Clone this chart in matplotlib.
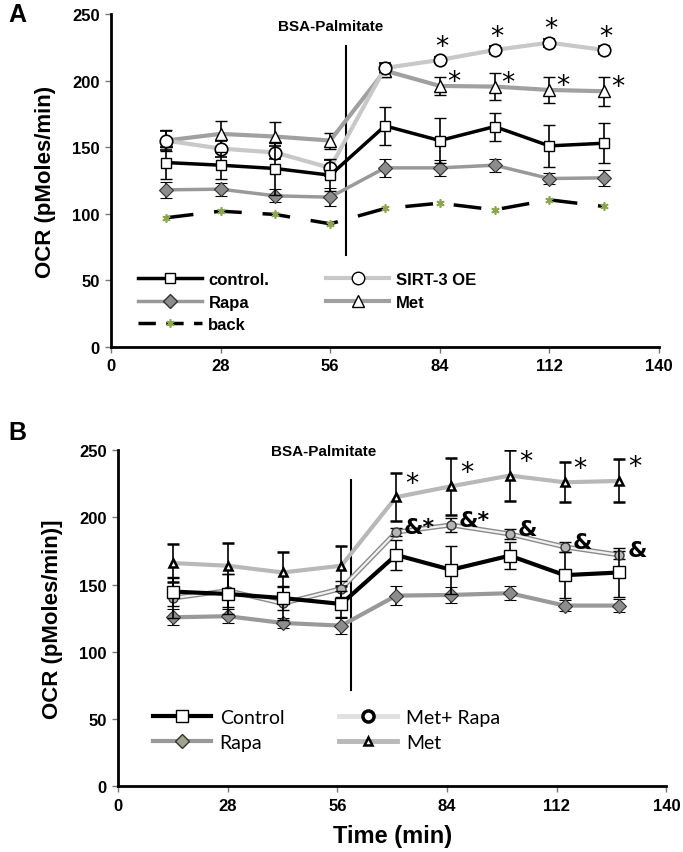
import matplotlib.pyplot as plt
import matplotlib.patheffects as pe
from matplotlib.lines import Line2D

plt.rcParams['font.family'] = ['Liberation Sans Narrow', 'Liberation Sans', 'DejaVu Sans']

# ---- panel A data ----
time_a = [14, 28, 42, 56, 70, 84, 98, 112, 126]
control_a = [138.5, 136.5, 134, 129, 166, 155, 165.5, 151, 153]
control_a_err = [12, 10, 20, 12, 14.5, 17, 10.5, 16, 15]
sirt_a = [155, 149, 146, 134.5, 209.5, 215.5, 223, 228.5, 223]
sirt_a_err = [7, 6, 5, 6, 4, 2, 3, 3, 3]
met_a = [155, 160, 158, 155, 207.5, 196, 195.5, 193, 192]
met_a_err = [8, 10, 11, 6, 5, 7, 10, 10, 11]
rapa_a = [118, 118.5, 113.5, 112.5, 134.5, 134.5, 136.5, 126.5, 127]
rapa_a_err = [6, 5, 5, 7, 7, 6, 5, 4, 6]
back_a = [97, 102, 99.5, 92.5, 104, 108, 103, 110.5, 105.5]
sig_sirt_a = [84, 98, 112, 126]
sig_met_a = [84, 98, 112, 126]

# ---- panel B data ----
time_b = [14, 28, 42, 57, 71, 85, 100, 114, 128]
control_b = [144.8, 143, 140, 135.6, 172, 161, 171.5, 157, 159]
control_b_err = [11, 15, 9, 10, 11, 18, 10, 17, 18]
metrapa_b = [140, 145.5, 136, 147, 189, 194.3, 187.6, 178, 172]
metrapa_b_err = [15, 12, 12, 6, 3, 5, 4, 4, 3]
met_b = [166, 164, 159, 164, 215, 223, 231, 226, 227]
met_b_err = [14, 17, 15, 15, 18, 21, 19, 15, 16]
rapa_b = [125.7, 126.5, 121.5, 119.5, 141.8, 142.3, 143.6, 134.4, 134.4]
rapa_b_err = [6, 5, 4, 6, 7, 6, 5, 4, 5]
sig_met_b = [71, 85, 100, 114, 128]
amp_b = [71, 85, 100, 114, 128]
amp_labels_b = ['&*', '&*', '&', '&', '&']

xticks = [0, 28, 56, 84, 112, 140]
yticks = [0, 50, 100, 150, 200, 250]

fig = plt.figure(figsize=(6.83, 8.53), dpi=100)
ax1 = fig.add_axes([0.1625, 0.592, 0.8023, 0.3904])
ax2 = fig.add_axes([0.1728, 0.0768, 0.803, 0.3945])

eb = dict(ecolor='black', elinewidth=1.2, capsize=4, capthick=1.2)


def style_axes(ax):
    ax.set_xlim(0, 140)
    ax.set_ylim(0, 250)
    ax.set_xticks(xticks)
    ax.set_yticks(yticks)
    for s in ['top', 'right']:
        ax.spines[s].set_visible(False)
    for s in ['left', 'bottom']:
        ax.spines[s].set_linewidth(2)
    ax.tick_params(direction='out', length=4, width=1, color='#777777',
                   labelsize=12, pad=4)
    for lab in ax.get_xticklabels() + ax.get_yticklabels():
        lab.set_fontweight('bold')


# ---------- Panel A ----------
ax = ax1
ax.plot(time_a, back_a, color='black', lw=2.5, dashes=(8, 6),
        marker=(6, 2, 0), ms=6, mec='#8aa84a', mew=1.2, zorder=2)
ax.errorbar(time_a, rapa_a, yerr=rapa_a_err, color='#999999', lw=2.5,
            marker='D', ms=7, mfc='#8c8c8c', mec='#333333', mew=0.8, zorder=3, **eb)
ax.errorbar(time_a, control_a, yerr=control_a_err, color='black', lw=2.5,
            marker='s', ms=7, mfc='white', mec='black', mew=1, zorder=4, **eb)
ax.errorbar(time_a, met_a, yerr=met_a_err, color='#a0a0a0', lw=3,
            marker='^', ms=9, mfc='white', mec='black', mew=1, zorder=3, **eb)
ax.errorbar(time_a, sirt_a, yerr=sirt_a_err, color='#c8c8c8', lw=3,
            marker='o', ms=9, mfc='white', mec='black', mew=1.2, zorder=3, **eb)

ax.plot([60, 60], [69, 226], color='black', lw=1.5)
ax.text(56, 241, 'BSA-Palmitate', ha='center', va='center', fontsize=11,
        fontweight='bold', family=['Liberation Sans', 'DejaVu Sans'])

for t in sig_sirt_a:
    i = time_a.index(t)
    ax.text(t + 0.5, sirt_a[i] + 10, '*', ha='center', va='center', fontsize=19,
            family='DejaVu Sans')
for t in sig_met_a:
    i = time_a.index(t)
    ax.text(t + 3.5, met_a[i] + 3, '*', ha='center', va='center', fontsize=19,
            family='DejaVu Sans')

handles_a = [
    Line2D([], [], color='black', lw=2.5, marker='s', ms=7, mfc='white', mec='black'),
    Line2D([], [], color='#999999', lw=2.5, marker='D', ms=7, mfc='#8c8c8c', mec='#333333'),
    Line2D([], [], color='black', lw=2.5, dashes=(5, 3), marker=(6, 2, 0), ms=6,
           mec='#8aa84a', mew=1.2),
    Line2D([], [], color='#c8c8c8', lw=3, marker='o', ms=9, mfc='white', mec='black'),
    Line2D([], [], color='#a0a0a0', lw=3, marker='^', ms=9, mfc='white', mec='black'),
]
labels_a = ['control.', 'Rapa', 'back', 'SIRT-3 OE', 'Met']
ax.legend(handles_a, labels_a, ncol=2, loc='upper left', bbox_to_anchor=(0.05, 0.225),
          frameon=False, borderpad=0, borderaxespad=0, handlelength=3.8,
          handletextpad=0.4, columnspacing=3.4, labelspacing=0.45,
          prop={'size': 12, 'weight': 'bold'})

style_axes(ax)
ax.set_ylabel('OCR (pMoles/min)', fontsize=16, fontweight='bold',
              family=['Liberation Sans', 'DejaVu Sans'], labelpad=12)

# ---------- Panel B ----------
ax = ax2
ax.errorbar(time_b, rapa_b, yerr=rapa_b_err, color='#999999', lw=3,
            marker='D', ms=7, mfc='#8c8c8c', mec='#333333', mew=0.8, zorder=3, **eb)
ax.plot(time_b, metrapa_b, color='#f2f2f2', lw=1.6, zorder=3,
        path_effects=[pe.Stroke(linewidth=3.6, foreground='#8a8a8a'), pe.Normal()])
ax.errorbar(time_b, metrapa_b, yerr=metrapa_b_err, ls='none',
            marker='o', ms=6.5, mfc='#b5b5b5', mec='#333333', mew=1, zorder=4, **eb)
ax.errorbar(time_b, control_b, yerr=control_b_err, color='black', lw=3,
            marker='s', ms=8, mfc='white', mec='black', mew=1, zorder=5, **eb)
ax.errorbar(time_b, met_b, yerr=met_b_err, color='#b8b8b8', lw=3,
            marker='^', ms=6, mfc='white', mec='black', mew=1.8, zorder=3, **eb)

ax.plot([59.4, 59.4], [72, 228], color='black', lw=1.5)
ax.text(52.5, 249, 'BSA-Palmitate', ha='center', va='center', fontsize=11,
        fontweight='bold', family=['Liberation Sans', 'DejaVu Sans'])

for t in sig_met_b:
    i = time_b.index(t)
    ax.text(t + 4, met_b[i] + 10, '*', ha='center', va='center', fontsize=19,
            family='DejaVu Sans')
for t, lab in zip(amp_b, amp_labels_b):
    i = time_b.index(t)
    ax.text(t + 2, metrapa_b[i] + 4, lab, ha='left', va='center', fontsize=16,
            fontweight='bold', family='DejaVu Sans')

handles_b = [
    Line2D([], [], color='black', lw=3, marker='s', ms=8, mfc='white', mec='black'),
    Line2D([], [], color='#999999', lw=3, marker='D', ms=7, mfc='#a3a38c', mec='#333333'),
    Line2D([], [], color='#e0e0e0', lw=3.5, marker='o', ms=8, mfc='white', mec='black',
           mew=2.5),
    Line2D([], [], color='#b8b8b8', lw=3.5, marker='^', ms=6, mfc='white', mec='black',
           mew=1.8),
]
labels_b = ['Control', 'Rapa', 'Met+ Rapa', 'Met']
ax.legend(handles_b, labels_b, ncol=2, loc='upper left', bbox_to_anchor=(0.063, 0.23),
          frameon=False, borderpad=0, borderaxespad=0, handlelength=3.0,
          handletextpad=0.45, columnspacing=2.8, labelspacing=0.4,
          prop={'size': 14, 'family': ['Lato', 'DejaVu Sans']})

style_axes(ax)
ax.set_ylabel('OCR (pMoles/min)]', fontsize=16, fontweight='bold',
              family=['Liberation Sans', 'DejaVu Sans'], labelpad=12)
ax.set_xlabel('Time (min)', fontsize=17, fontweight='bold', labelpad=8)

fig.text(0.012, 0.982, 'A', fontsize=18, fontweight='bold', va='center',
         family=['Liberation Sans', 'DejaVu Sans'])
fig.text(0.012, 0.492, 'B', fontsize=18, fontweight='bold', va='center',
         family=['Liberation Sans', 'DejaVu Sans'])

fig.savefig('out.png', dpi=100)
